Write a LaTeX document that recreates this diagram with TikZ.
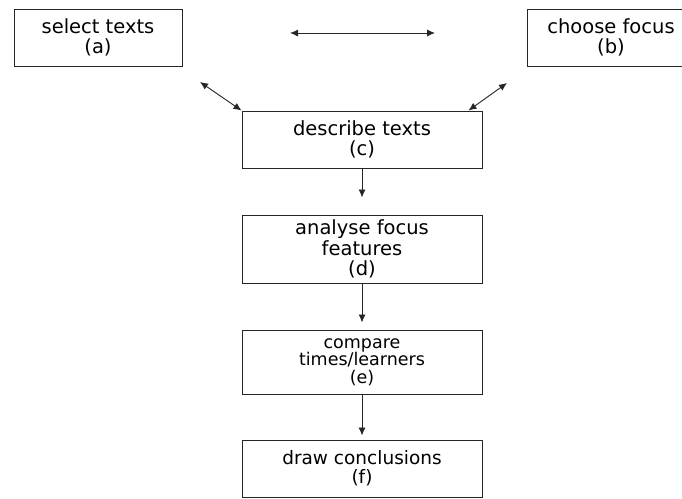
\documentclass[tikz,border=0pt]{standalone}
\usepackage{fontspec}
\setmainfont{DejaVu Sans}
\usetikzlibrary{arrows.meta}
\definecolor{ink}{gray}{0.15}
\tikzset{
  box/.style={draw=ink, line width=1pt, rectangle, align=center, text=black,
    inner sep=0pt, font=\fontsize{19.5}{20.5}\selectfont},
  topbox/.style={box, minimum width=168pt, minimum height=57pt},
  midbox/.style={box, minimum width=240pt},
  conn/.style={draw=ink, line width=0.9pt, -{Latex[length=8pt,width=7pt]}},
  dconn/.style={draw=ink, line width=0.9pt, {Latex[length=8pt,width=7pt]}-{Latex[length=8pt,width=7pt]}}
}
\begin{document}
\begin{tikzpicture}[x=1pt,y=-1pt]
\useasboundingbox (0,0) rectangle (682,498);
\clip (0,0) rectangle (682,498);
\node[topbox] (a) at (98,37.5) {select texts\\(a)};
\node[topbox] (b) at (611,37.5) {choose focus\\(b)};
\node[midbox, minimum height=57pt] (c) at (362,139.5) {describe texts\\(c)};
\node[midbox, minimum height=68pt] (d) at (362,249) {analyse focus\\features\\(d)};
\node[midbox, minimum height=64pt, font=\fontsize{17.5}{17.5}\selectfont] (e) at (362,362) {compare\\times/learners\\(e)};
\node[midbox, minimum height=57pt, font=\fontsize{18.5}{19}\selectfont] (f) at (362,468.5) {draw conclusions\\(f)};
\coordinate (tl) at (290,33);
\coordinate (tr) at (435,33);
\coordinate (dl) at (200,82);
\coordinate (dr) at (507,83);
\draw[dconn] (tl) -- (tr);
\draw[dconn] (dl) -- (c.north west);
\draw[dconn] (dr) -- ([xshift=-14pt]c.north east);
\draw[conn, shorten >=17pt] (c) -- (d);
\draw[conn, shorten >=7pt] (d) -- (e);
\draw[conn, shorten >=4pt] (e) -- (f);
\end{tikzpicture}
\end{document}
